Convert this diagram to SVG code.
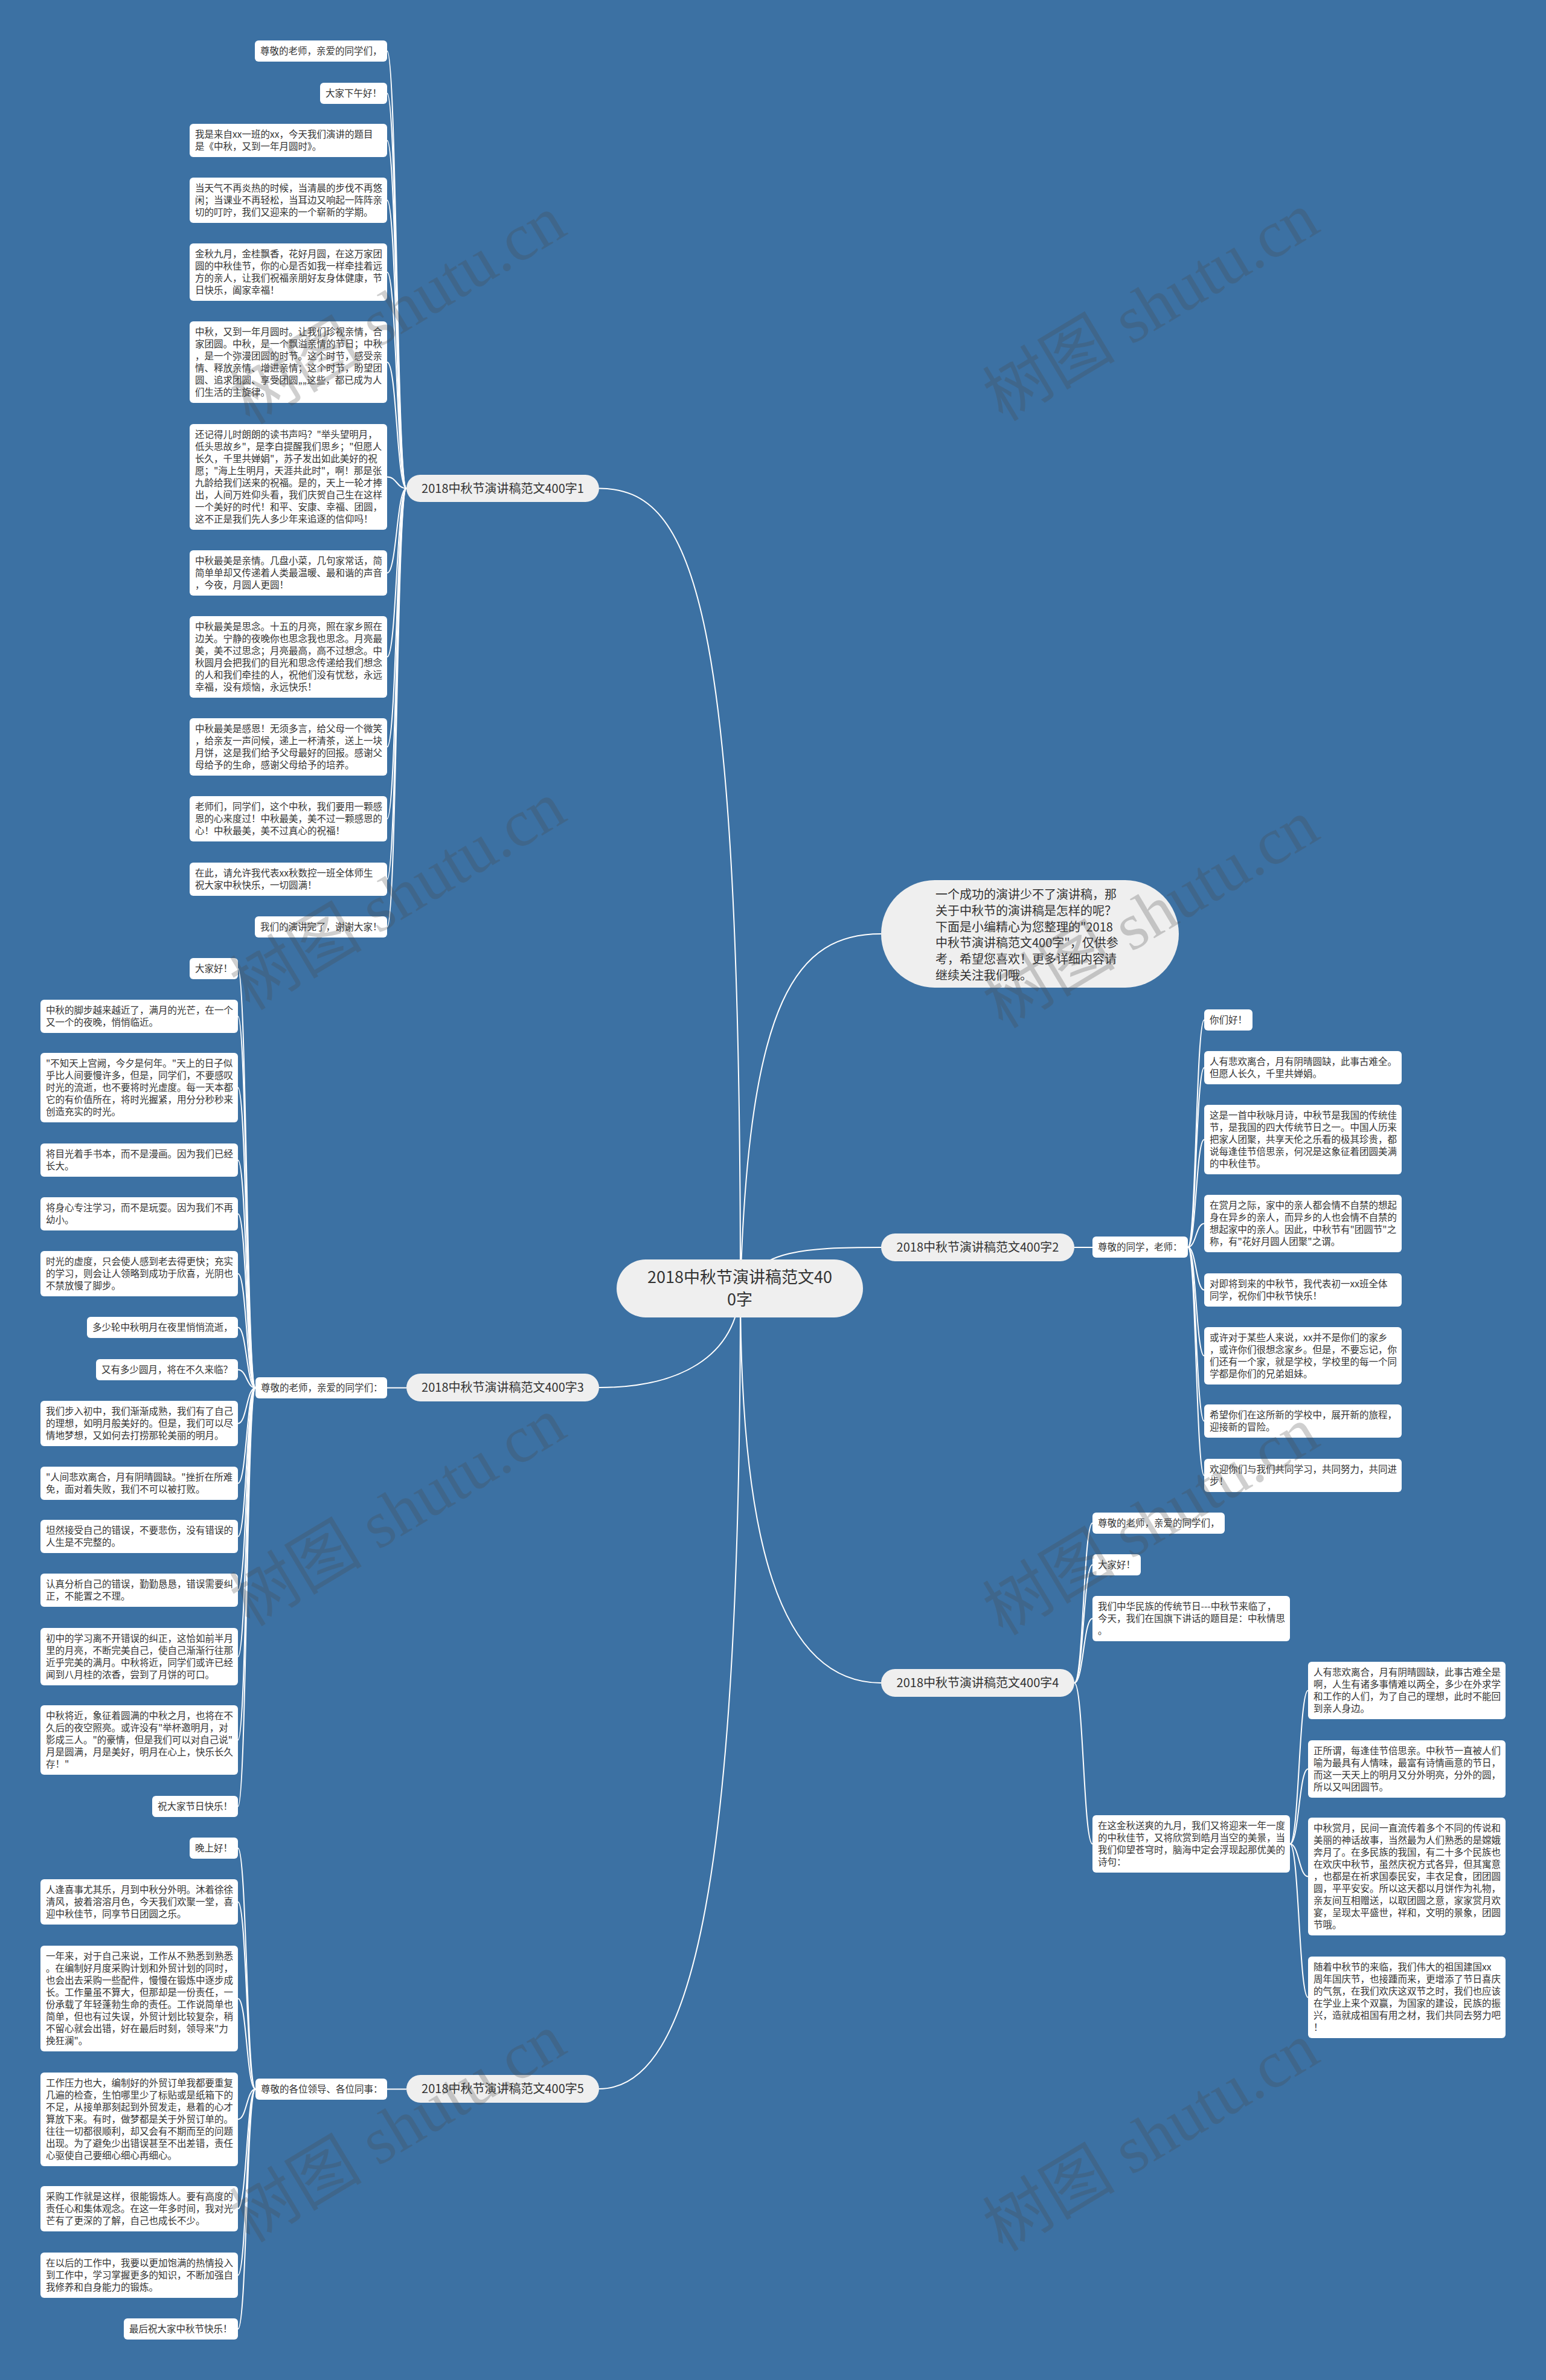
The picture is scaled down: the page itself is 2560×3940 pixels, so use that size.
<svg xmlns="http://www.w3.org/2000/svg" width="2560" height="3940" viewBox="0 0 2560 3940">
<style>
.bg{fill:#3c71a3}
.bx{fill:#ffffff}
.lb{fill:#efefef}
.t{font-family:"Noto Sans CJK SC","Noto Sans",sans-serif;font-size:15.5px;fill:#333333}
.lt{font-family:"Noto Sans CJK SC","Noto Sans",sans-serif;font-size:20px;fill:#333333;text-anchor:middle}
.ct{font-family:"Noto Sans CJK SC","Noto Sans",sans-serif;font-size:27px;fill:#333333;text-anchor:middle}
.it{font-family:"Noto Sans CJK SC","Noto Sans",sans-serif;font-size:20px;fill:#333333}
.c{fill:none;stroke:#ffffff;stroke-width:2}
.wm{font-family:"Liberation Serif","Noto Sans CJK SC",serif;font-size:110px;fill:#4a4a4a;opacity:0.26;text-anchor:middle}
</style>
<rect class="bg" x="0" y="0" width="2560" height="3940"/>

<g id="connectors">
<path class="c" d="M1226,2132 C1226,1000 1150,808.5 992,808.5"/>
<path class="c" d="M1226,2132 C1240,1650 1320,1546 1459,1546"/>
<path class="c" d="M1226,2132 C1260,2070 1330,2065 1459,2065"/>
<path class="c" d="M1226,2132 C1220,2250 1120,2297 992,2297"/>
<path class="c" d="M1226,2132 C1226,2550 1290,2786 1459,2786"/>
<path class="c" d="M1226,2132 C1226,3100 1150,3458 992,3458"/>
<path class="c" d="M1779,2065 H1809"/>
<path class="c" d="M641,2297.5 H673"/>
<path class="c" d="M641,3458.5 H673"/>
<!-- branch 1 -->
<path class="c" d="M673,808.5 C657,808.5 657,84.5 641,84.5"/>
<path class="c" d="M673,808.5 C657,808.5 657,154.5 641,154.5"/>
<path class="c" d="M673,808.5 C657,808.5 657,232.5 641,232.5"/>
<path class="c" d="M673,808.5 C657,808.5 657,331.5 641,331.5"/>
<path class="c" d="M673,808.5 C657,808.5 657,450.5 641,450.5"/>
<path class="c" d="M673,808.5 C657,808.5 657,599.5 641,599.5"/>
<path class="c" d="M673,808.5 C657,808.5 657,789.5 641,789.5"/>
<path class="c" d="M673,808.5 C657,808.5 657,948.5 641,948.5"/>
<path class="c" d="M673,808.5 C657,808.5 657,1087.5 641,1087.5"/>
<path class="c" d="M673,808.5 C657,808.5 657,1236.5 641,1236.5"/>
<path class="c" d="M673,808.5 C657,808.5 657,1355.5 641,1355.5"/>
<path class="c" d="M673,808.5 C657,808.5 657,1455.5 641,1455.5"/>
<path class="c" d="M673,808.5 C657,808.5 657,1534.5 641,1534.5"/>
<!-- branch 3 -->
<path class="c" d="M423,2297.5 C408.5,2297.5 408.5,1603.5 394,1603.5"/>
<path class="c" d="M423,2297.5 C408.5,2297.5 408.5,1682.5 394,1682.5"/>
<path class="c" d="M423,2297.5 C408.5,2297.5 408.5,1800.5 394,1800.5"/>
<path class="c" d="M423,2297.5 C408.5,2297.5 408.5,1920.5 394,1920.5"/>
<path class="c" d="M423,2297.5 C408.5,2297.5 408.5,2009.5 394,2009.5"/>
<path class="c" d="M423,2297.5 C408.5,2297.5 408.5,2108.5 394,2108.5"/>
<path class="c" d="M423,2297.5 C408.5,2297.5 408.5,2197.5 394,2197.5"/>
<path class="c" d="M423,2297.5 C408.5,2297.5 408.5,2267.5 394,2267.5"/>
<path class="c" d="M423,2297.5 C408.5,2297.5 408.5,2356.5 394,2356.5"/>
<path class="c" d="M423,2297.5 C408.5,2297.5 408.5,2455.5 394,2455.5"/>
<path class="c" d="M423,2297.5 C408.5,2297.5 408.5,2543.5 394,2543.5"/>
<path class="c" d="M423,2297.5 C408.5,2297.5 408.5,2632.5 394,2632.5"/>
<path class="c" d="M423,2297.5 C408.5,2297.5 408.5,2742.5 394,2742.5"/>
<path class="c" d="M423,2297.5 C408.5,2297.5 408.5,2880.5 394,2880.5"/>
<path class="c" d="M423,2297.5 C408.5,2297.5 408.5,2990.5 394,2990.5"/>
<!-- branch 5 -->
<path class="c" d="M423,3458.5 C408.5,3458.5 408.5,3059.5 394,3059.5"/>
<path class="c" d="M423,3458.5 C408.5,3458.5 408.5,3148.5 394,3148.5"/>
<path class="c" d="M423,3458.5 C408.5,3458.5 408.5,3308.5 394,3308.5"/>
<path class="c" d="M423,3458.5 C408.5,3458.5 408.5,3508.5 394,3508.5"/>
<path class="c" d="M423,3458.5 C408.5,3458.5 408.5,3656.5 394,3656.5"/>
<path class="c" d="M423,3458.5 C408.5,3458.5 408.5,3766.5 394,3766.5"/>
<path class="c" d="M423,3458.5 C408.5,3458.5 408.5,3855.5 394,3855.5"/>
<!-- branch 2 -->
<path class="c" d="M1967,2064.5 C1980.5,2064.5 1980.5,1688.5 1994,1688.5"/>
<path class="c" d="M1967,2064.5 C1980.5,2064.5 1980.5,1767.5 1994,1767.5"/>
<path class="c" d="M1967,2064.5 C1980.5,2064.5 1980.5,1886.5 1994,1886.5"/>
<path class="c" d="M1967,2064.5 C1980.5,2064.5 1980.5,2025.5 1994,2025.5"/>
<path class="c" d="M1967,2064.5 C1980.5,2064.5 1980.5,2135.5 1994,2135.5"/>
<path class="c" d="M1967,2064.5 C1980.5,2064.5 1980.5,2244.5 1994,2244.5"/>
<path class="c" d="M1967,2064.5 C1980.5,2064.5 1980.5,2352.5 1994,2352.5"/>
<path class="c" d="M1967,2064.5 C1980.5,2064.5 1980.5,2442.5 1994,2442.5"/>
<!-- branch 4 -->
<path class="c" d="M1779,2786 C1794,2786 1794,2521.5 1809,2521.5"/>
<path class="c" d="M1779,2786 C1794,2786 1794,2590.5 1809,2590.5"/>
<path class="c" d="M1779,2786 C1794,2786 1794,2679.5 1809,2679.5"/>
<path class="c" d="M1779,2786 C1794,2786 1794,3052.5 1809,3052.5"/>
<path class="c" d="M2136,3052.5 C2151,3052.5 2151,2798.5 2166,2798.5"/>
<path class="c" d="M2136,3052.5 C2151,3052.5 2151,2928.5 2166,2928.5"/>
<path class="c" d="M2136,3052.5 C2151,3052.5 2151,3106.5 2166,3106.5"/>
<path class="c" d="M2136,3052.5 C2151,3052.5 2151,3306.5 2166,3306.5"/>
</g>

<!-- central -->
<g id="central">
<rect class="lb" x="1021" y="2085" width="408" height="96" rx="48"/>
<text class="ct" x="1225" y="2124">2018中秋节演讲稿范文40<tspan x="1225" dy="37">0字</tspan></text>
</g>

<g id="intro">
<rect class="lb" x="1459" y="1457" width="493" height="178" rx="89"/>
<text class="it" x="1549" y="1488">一个成功的演讲少不了演讲稿，那<tspan x="1549" dy="26.8">关于中秋节的演讲稿是怎样的呢？</tspan><tspan x="1549" dy="26.8">下面是小编精心为您整理的"2018</tspan><tspan x="1549" dy="26.8">中秋节演讲稿范文400字"，仅供参</tspan><tspan x="1549" dy="26.8">考，希望您喜欢！更多详细内容请</tspan><tspan x="1549" dy="26.8">继续关注我们哦。</tspan></text>
</g>

<!-- branch labels -->
<g id="b1"><rect class="lb" x="673" y="786" width="319" height="45" rx="22.5"/><text class="lt" x="832.5" y="815.5">2018中秋节演讲稿范文400字1</text></g>
<g id="b2"><rect class="lb" x="1459" y="2042" width="320" height="46" rx="23"/><text class="lt" x="1619" y="2072">2018中秋节演讲稿范文400字2</text></g>
<g id="b3"><rect class="lb" x="673" y="2274" width="319" height="46" rx="23"/><text class="lt" x="832.5" y="2304">2018中秋节演讲稿范文400字3</text></g>
<g id="b4"><rect class="lb" x="1459" y="2763" width="320" height="46" rx="23"/><text class="lt" x="1619" y="2793">2018中秋节演讲稿范文400字4</text></g>
<g id="b5"><rect class="lb" x="673" y="3435" width="319" height="46" rx="23"/><text class="lt" x="832.5" y="3465">2018中秋节演讲稿范文400字5</text></g>

<!-- branch 1 children -->
<g id="b1_1"><rect class="bx" x="422" y="67" width="219" height="35" rx="6"/><text class="t" x="431" y="90">尊敬的老师，亲爱的同学们，</text></g>
<g id="b1_2"><rect class="bx" x="530" y="137" width="111" height="35" rx="6"/><text class="t" x="539" y="160">大家下午好！</text></g>
<g id="b1_3"><rect class="bx" x="314" y="205" width="327" height="55" rx="6"/><text class="t" x="323" y="228">我是来自xx一班的xx，今天我们演讲的题目<tspan x="323" dy="20">是《中秋，又到一年月圆时》。</tspan></text></g>
<g id="b1_4"><rect class="bx" x="314" y="294" width="327" height="75" rx="6"/><text class="t" x="323" y="317">当天气不再炎热的时候，当清晨的步伐不再悠<tspan x="323" dy="20">闲；当课业不再轻松，当耳边又响起一阵阵亲</tspan><tspan x="323" dy="20">切的叮咛，我们又迎来的一个崭新的学期。</tspan></text></g>
<g id="b1_5"><rect class="bx" x="314" y="403" width="327" height="95" rx="6"/><text class="t" x="323" y="426">金秋九月，金桂飘香，花好月圆，在这万家团<tspan x="323" dy="20">圆的中秋佳节，你的心是否如我一样牵挂着远</tspan><tspan x="323" dy="20">方的亲人，让我们祝福亲朋好友身体健康，节</tspan><tspan x="323" dy="20">日快乐，阖家幸福！</tspan></text></g>
<g id="b1_6"><rect class="bx" x="314" y="532" width="327" height="135" rx="6"/><text class="t" x="323" y="555">中秋，又到一年月圆时。让我们珍视亲情，合<tspan x="323" dy="20">家团圆。中秋，是一个飘溢亲情的节日；中秋</tspan><tspan x="323" dy="20">，是一个弥漫团圆的时节。这个时节，感受亲</tspan><tspan x="323" dy="20">情、释放亲情、增进亲情；这个时节，盼望团</tspan><tspan x="323" dy="20">圆、追求团圆、享受团圆„„这些，都已成为人</tspan><tspan x="323" dy="20">们生活的主旋律。</tspan></text></g>
<g id="b1_7"><rect class="bx" x="314" y="702" width="327" height="175" rx="6"/><text class="t" x="323" y="725">还记得儿时朗朗的读书声吗？"举头望明月，<tspan x="323" dy="20">低头思故乡"，是李白提醒我们思乡；"但愿人</tspan><tspan x="323" dy="20">长久，千里共婵娟"，苏子发出如此美好的祝</tspan><tspan x="323" dy="20">愿；"海上生明月，天涯共此时"，啊！那是张</tspan><tspan x="323" dy="20">九龄给我们送来的祝福。是的，天上一轮才捧</tspan><tspan x="323" dy="20">出，人间万姓仰头看，我们庆贺自己生在这样</tspan><tspan x="323" dy="20">一个美好的时代！和平、安康、幸福、团圆，</tspan><tspan x="323" dy="20">这不正是我们先人多少年来追逐的信仰吗！</tspan></text></g>
<g id="b1_8"><rect class="bx" x="314" y="911" width="327" height="75" rx="6"/><text class="t" x="323" y="934">中秋最美是亲情。几盘小菜，几句家常话，简<tspan x="323" dy="20">简单单却又传递着人类最温暖、最和谐的声音</tspan><tspan x="323" dy="20">，今夜，月圆人更圆！</tspan></text></g>
<g id="b1_9"><rect class="bx" x="314" y="1020" width="327" height="135" rx="6"/><text class="t" x="323" y="1043">中秋最美是思念。十五的月亮，照在家乡照在<tspan x="323" dy="20">边关。宁静的夜晚你也思念我也思念。月亮最</tspan><tspan x="323" dy="20">美，美不过思念；月亮最高，高不过想念。中</tspan><tspan x="323" dy="20">秋圆月会把我们的目光和思念传递给我们想念</tspan><tspan x="323" dy="20">的人和我们牵挂的人，祝他们没有忧愁，永远</tspan><tspan x="323" dy="20">幸福，没有烦恼，永远快乐！</tspan></text></g>
<g id="b1_10"><rect class="bx" x="314" y="1189" width="327" height="95" rx="6"/><text class="t" x="323" y="1212">中秋最美是感恩！无须多言，给父母一个微笑<tspan x="323" dy="20">，给亲友一声问候，递上一杯清茶，送上一块</tspan><tspan x="323" dy="20">月饼，这是我们给予父母最好的回报。感谢父</tspan><tspan x="323" dy="20">母给予的生命，感谢父母给予的培养。</tspan></text></g>
<g id="b1_11"><rect class="bx" x="314" y="1318" width="327" height="75" rx="6"/><text class="t" x="323" y="1341">老师们，同学们，这个中秋，我们要用一颗感<tspan x="323" dy="20">恩的心来度过！中秋最美，美不过一颗感恩的</tspan><tspan x="323" dy="20">心！中秋最美，美不过真心的祝福！</tspan></text></g>
<g id="b1_12"><rect class="bx" x="314" y="1428" width="327" height="55" rx="6"/><text class="t" x="323" y="1451">在此，请允许我代表xx秋数控一班全体师生<tspan x="323" dy="20">祝大家中秋快乐，一切圆满！</tspan></text></g>
<g id="b1_13"><rect class="bx" x="422" y="1517" width="219" height="35" rx="6"/><text class="t" x="431" y="1540">我们的演讲完了，谢谢大家！</text></g>

<!-- branch 2 -->
<g id="b2_s"><rect class="bx" x="1809" y="2047" width="158" height="35" rx="6"/><text class="t" x="1818" y="2070">尊敬的同学，老师：</text></g>
<g id="b2_1"><rect class="bx" x="1994" y="1671" width="80" height="35" rx="6"/><text class="t" x="2003" y="1694">你们好！</text></g>
<g id="b2_2"><rect class="bx" x="1994" y="1740" width="327" height="55" rx="6"/><text class="t" x="2003" y="1763">人有悲欢离合，月有阴晴圆缺，此事古难全。<tspan x="2003" dy="20">但愿人长久，千里共婵娟。</tspan></text></g>
<g id="b2_3"><rect class="bx" x="1994" y="1829" width="327" height="115" rx="6"/><text class="t" x="2003" y="1852">这是一首中秋咏月诗，中秋节是我国的传统佳<tspan x="2003" dy="20">节，是我国的四大传统节日之一。中国人历来</tspan><tspan x="2003" dy="20">把家人团聚，共享天伦之乐看的极其珍贵，都</tspan><tspan x="2003" dy="20">说每逢佳节倍思亲，何况是这象征着团圆美满</tspan><tspan x="2003" dy="20">的中秋佳节。</tspan></text></g>
<g id="b2_4"><rect class="bx" x="1994" y="1978" width="327" height="95" rx="6"/><text class="t" x="2003" y="2001">在赏月之际，家中的亲人都会情不自禁的想起<tspan x="2003" dy="20">身在异乡的亲人，而异乡的人也会情不自禁的</tspan><tspan x="2003" dy="20">想起家中的亲人。因此，中秋节有"团圆节"之</tspan><tspan x="2003" dy="20">称，有"花好月圆人团聚"之谓。</tspan></text></g>
<g id="b2_5"><rect class="bx" x="1994" y="2108" width="327" height="55" rx="6"/><text class="t" x="2003" y="2131">对即将到来的中秋节，我代表初一xx班全体<tspan x="2003" dy="20">同学，祝你们中秋节快乐！</tspan></text></g>
<g id="b2_6"><rect class="bx" x="1994" y="2197" width="327" height="95" rx="6"/><text class="t" x="2003" y="2220">或许对于某些人来说，xx并不是你们的家乡<tspan x="2003" dy="20">，或许你们很想念家乡。但是，不要忘记，你</tspan><tspan x="2003" dy="20">们还有一个家，就是学校，学校里的每一个同</tspan><tspan x="2003" dy="20">学都是你们的兄弟姐妹。</tspan></text></g>
<g id="b2_7"><rect class="bx" x="1994" y="2325" width="327" height="55" rx="6"/><text class="t" x="2003" y="2348">希望你们在这所新的学校中，展开新的旅程，<tspan x="2003" dy="20">迎接新的冒险。</tspan></text></g>
<g id="b2_8"><rect class="bx" x="1994" y="2415" width="327" height="55" rx="6"/><text class="t" x="2003" y="2438">欢迎你们与我们共同学习，共同努力，共同进<tspan x="2003" dy="20">步！</tspan></text></g>

<!-- branch 3 -->
<g id="b3_s"><rect class="bx" x="423" y="2280" width="218" height="35" rx="6"/><text class="t" x="432" y="2303">尊敬的老师，亲爱的同学们：</text></g>
<g id="b3_1"><rect class="bx" x="314" y="1586" width="80" height="35" rx="6"/><text class="t" x="323" y="1609">大家好！</text></g>
<g id="b3_2"><rect class="bx" x="67" y="1655" width="327" height="55" rx="6"/><text class="t" x="76" y="1678">中秋的脚步越来越近了，满月的光芒，在一个<tspan x="76" dy="20">又一个的夜晚，悄悄临近。</tspan></text></g>
<g id="b3_3"><rect class="bx" x="67" y="1743" width="327" height="115" rx="6"/><text class="t" x="76" y="1766">"不知天上宫阙，今夕是何年。"天上的日子似<tspan x="76" dy="20">乎比人间要慢许多，但是，同学们，不要感叹</tspan><tspan x="76" dy="20">时光的流逝，也不要将时光虚度。每一天本都</tspan><tspan x="76" dy="20">它的有价值所在，将时光握紧，用分分秒秒来</tspan><tspan x="76" dy="20">创造充实的时光。</tspan></text></g>
<g id="b3_4"><rect class="bx" x="67" y="1893" width="327" height="55" rx="6"/><text class="t" x="76" y="1916">将目光着手书本，而不是漫画。因为我们已经<tspan x="76" dy="20">长大。</tspan></text></g>
<g id="b3_5"><rect class="bx" x="67" y="1982" width="327" height="55" rx="6"/><text class="t" x="76" y="2005">将身心专注学习，而不是玩耍。因为我们不再<tspan x="76" dy="20">幼小。</tspan></text></g>
<g id="b3_6"><rect class="bx" x="67" y="2071" width="327" height="75" rx="6"/><text class="t" x="76" y="2094">时光的虚度，只会使人感到老去得更快；充实<tspan x="76" dy="20">的学习，则会让人领略到成功于欣喜，光阴也</tspan><tspan x="76" dy="20">不禁放慢了脚步。</tspan></text></g>
<g id="b3_7"><rect class="bx" x="144" y="2180" width="250" height="35" rx="6"/><text class="t" x="153" y="2203">多少轮中秋明月在夜里悄悄流逝，</text></g>
<g id="b3_8"><rect class="bx" x="159" y="2250" width="235" height="35" rx="6"/><text class="t" x="168" y="2273">又有多少圆月，将在不久来临？</text></g>
<g id="b3_9"><rect class="bx" x="67" y="2319" width="327" height="75" rx="6"/><text class="t" x="76" y="2342">我们步入初中，我们渐渐成熟，我们有了自己<tspan x="76" dy="20">的理想，如明月般美好的。但是，我们可以尽</tspan><tspan x="76" dy="20">情地梦想，又如何去打捞那轮美丽的明月。</tspan></text></g>
<g id="b3_10"><rect class="bx" x="67" y="2428" width="327" height="55" rx="6"/><text class="t" x="76" y="2451">"人间悲欢离合，月有阴晴圆缺。"挫折在所难<tspan x="76" dy="20">免，面对着失败，我们不可以被打败。</tspan></text></g>
<g id="b3_11"><rect class="bx" x="67" y="2516" width="327" height="55" rx="6"/><text class="t" x="76" y="2539">坦然接受自己的错误，不要悲伤，没有错误的<tspan x="76" dy="20">人生是不完整的。</tspan></text></g>
<g id="b3_12"><rect class="bx" x="67" y="2605" width="327" height="55" rx="6"/><text class="t" x="76" y="2628">认真分析自己的错误，勤勤恳恳，错误需要纠<tspan x="76" dy="20">正，不能置之不理。</tspan></text></g>
<g id="b3_13"><rect class="bx" x="67" y="2695" width="327" height="95" rx="6"/><text class="t" x="76" y="2718">初中的学习离不开错误的纠正，这恰如前半月<tspan x="76" dy="20">里的月亮，不断完美自己，使自己渐渐行往那</tspan><tspan x="76" dy="20">近乎完美的满月。中秋将近，同学们或许已经</tspan><tspan x="76" dy="20">闻到八月桂的浓香，尝到了月饼的可口。</tspan></text></g>
<g id="b3_14"><rect class="bx" x="67" y="2823" width="327" height="115" rx="6"/><text class="t" x="76" y="2846">中秋将近，象征着圆满的中秋之月，也将在不<tspan x="76" dy="20">久后的夜空照亮。或许没有"举杯邀明月，对</tspan><tspan x="76" dy="20">影成三人。"的豪情，但是我们可以对自己说"</tspan><tspan x="76" dy="20">月是圆满，月是美好，明月在心上，快乐长久</tspan><tspan x="76" dy="20">存！"</tspan></text></g>
<g id="b3_15"><rect class="bx" x="252" y="2973" width="142" height="35" rx="6"/><text class="t" x="261" y="2996">祝大家节日快乐！</text></g>

<!-- branch 4 -->
<g id="b4_1"><rect class="bx" x="1809" y="2504" width="219" height="35" rx="6"/><text class="t" x="1818" y="2527">尊敬的老师，亲爱的同学们，</text></g>
<g id="b4_2"><rect class="bx" x="1809" y="2573" width="80" height="35" rx="6"/><text class="t" x="1818" y="2596">大家好！</text></g>
<g id="b4_3"><rect class="bx" x="1809" y="2642" width="327" height="75" rx="6"/><text class="t" x="1818" y="2665">我们中华民族的传统节日---中秋节来临了，<tspan x="1818" dy="20">今天，我们在国旗下讲话的题目是：中秋情思</tspan><tspan x="1818" dy="20">。</tspan></text></g>
<g id="b4_4"><rect class="bx" x="1809" y="3005" width="327" height="95" rx="6"/><text class="t" x="1818" y="3028">在这金秋送爽的九月，我们又将迎来一年一度<tspan x="1818" dy="20">的中秋佳节，又将欣赏到皓月当空的美景，当</tspan><tspan x="1818" dy="20">我们仰望苍穹时，脑海中定会浮现起那优美的</tspan><tspan x="1818" dy="20">诗句：</tspan></text></g>
<g id="b4_4_1"><rect class="bx" x="2166" y="2751" width="327" height="95" rx="6"/><text class="t" x="2175" y="2774">人有悲欢离合，月有阴晴圆缺，此事古难全是<tspan x="2175" dy="20">啊，人生有诸多事情难以两全，多少在外求学</tspan><tspan x="2175" dy="20">和工作的人们，为了自己的理想，此时不能回</tspan><tspan x="2175" dy="20">到亲人身边。</tspan></text></g>
<g id="b4_4_2"><rect class="bx" x="2166" y="2881" width="327" height="95" rx="6"/><text class="t" x="2175" y="2904">正所谓，每逢佳节倍思亲。中秋节一直被人们<tspan x="2175" dy="20">喻为最具有人情味，最富有诗情画意的节日，</tspan><tspan x="2175" dy="20">而这一天天上的明月又分外明亮，分外的圆，</tspan><tspan x="2175" dy="20">所以又叫团圆节。</tspan></text></g>
<g id="b4_4_3"><rect class="bx" x="2166" y="3009" width="327" height="195" rx="6"/><text class="t" x="2175" y="3032">中秋赏月，民间一直流传着多个不同的传说和<tspan x="2175" dy="20">美丽的神话故事，当然最为人们熟悉的是嫦娥</tspan><tspan x="2175" dy="20">奔月了。在多民族的我国，有二十多个民族也</tspan><tspan x="2175" dy="20">在欢庆中秋节，虽然庆祝方式各异，但其寓意</tspan><tspan x="2175" dy="20">，也都是在祈求国泰民安，丰衣足食，团团圆</tspan><tspan x="2175" dy="20">圆，平平安安。所以这天都以月饼作为礼物，</tspan><tspan x="2175" dy="20">亲友间互相赠送，以取团圆之意，家家赏月欢</tspan><tspan x="2175" dy="20">宴，呈现太平盛世，祥和，文明的景象，团圆</tspan><tspan x="2175" dy="20">节哦。</tspan></text></g>
<g id="b4_4_4"><rect class="bx" x="2166" y="3239" width="327" height="135" rx="6"/><text class="t" x="2175" y="3262">随着中秋节的来临，我们伟大的祖国建国xx<tspan x="2175" dy="20">周年国庆节，也接踵而来，更增添了节日喜庆</tspan><tspan x="2175" dy="20">的气氛，在我们欢庆这双节之时，我们也应该</tspan><tspan x="2175" dy="20">在学业上来个双赢，为国家的建设，民族的振</tspan><tspan x="2175" dy="20">兴，造就成祖国有用之材，我们共同去努力吧</tspan><tspan x="2175" dy="20">！</tspan></text></g>

<!-- branch 5 -->
<g id="b5_s"><rect class="bx" x="423" y="3441" width="218" height="35" rx="6"/><text class="t" x="432" y="3464">尊敬的各位领导、各位同事：</text></g>
<g id="b5_1"><rect class="bx" x="314" y="3042" width="80" height="35" rx="6"/><text class="t" x="323" y="3065">晚上好！</text></g>
<g id="b5_2"><rect class="bx" x="67" y="3111" width="327" height="75" rx="6"/><text class="t" x="76" y="3134">人逢喜事尤其乐，月到中秋分外明。沐着徐徐<tspan x="76" dy="20">清风，披着溶溶月色，今天我们欢聚一堂，喜</tspan><tspan x="76" dy="20">迎中秋佳节，同享节日团圆之乐。</tspan></text></g>
<g id="b5_3"><rect class="bx" x="67" y="3221" width="327" height="175" rx="6"/><text class="t" x="76" y="3244">一年来，对于自己来说，工作从不熟悉到熟悉<tspan x="76" dy="20">。在编制好月度采购计划和外贸计划的同时，</tspan><tspan x="76" dy="20">也会出去采购一些配件，慢慢在锻炼中逐步成</tspan><tspan x="76" dy="20">长。工作量虽不算大，但那却是一份责任，一</tspan><tspan x="76" dy="20">份承载了年轻蓬勃生命的责任。工作说简单也</tspan><tspan x="76" dy="20">简单，但也有过失误，外贸计划比较复杂，稍</tspan><tspan x="76" dy="20">不留心就会出错，好在最后时刻，领导来"力</tspan><tspan x="76" dy="20">挽狂澜"。</tspan></text></g>
<g id="b5_4"><rect class="bx" x="67" y="3431" width="327" height="155" rx="6"/><text class="t" x="76" y="3454">工作压力也大，编制好的外贸订单我都要重复<tspan x="76" dy="20">几遍的检查，生怕哪里少了标贴或是纸箱下的</tspan><tspan x="76" dy="20">不足，从接单那刻起到外贸发走，悬着的心才</tspan><tspan x="76" dy="20">算放下来。有时，做梦都是关于外贸订单的。</tspan><tspan x="76" dy="20">往往一切都很顺利，却又会有不期而至的问题</tspan><tspan x="76" dy="20">出现。为了避免少出错误甚至不出差错，责任</tspan><tspan x="76" dy="20">心驱使自己要细心细心再细心。</tspan></text></g>
<g id="b5_5"><rect class="bx" x="67" y="3619" width="327" height="75" rx="6"/><text class="t" x="76" y="3642">采购工作就是这样，很能锻炼人。要有高度的<tspan x="76" dy="20">责任心和集体观念。在这一年多时间，我对光</tspan><tspan x="76" dy="20">芒有了更深的了解，自己也成长不少。</tspan></text></g>
<g id="b5_6"><rect class="bx" x="67" y="3729" width="327" height="75" rx="6"/><text class="t" x="76" y="3752">在以后的工作中，我要以更加饱满的热情投入<tspan x="76" dy="20">到工作中，学习掌握更多的知识，不断加强自</tspan><tspan x="76" dy="20">我修养和自身能力的锻炼。</tspan></text></g>
<g id="b5_7"><rect class="bx" x="205" y="3838" width="189" height="35" rx="6"/><text class="t" x="214" y="3861">最后祝大家中秋节快乐！</text></g>

<!-- watermarks -->
<g id="watermarks">
<text class="wm" transform="translate(678,545) rotate(-31)">树图 shutu.cn</text>
<text class="wm" transform="translate(1925,540) rotate(-31)">树图 shutu.cn</text>
<text class="wm" transform="translate(678,1515) rotate(-31)">树图 shutu.cn</text>
<text class="wm" transform="translate(1925,1545) rotate(-31)">树图 shutu.cn</text>
<text class="wm" transform="translate(678,2535) rotate(-31)">树图 shutu.cn</text>
<text class="wm" transform="translate(1925,2550) rotate(-31)">树图 shutu.cn</text>
<text class="wm" transform="translate(678,3555) rotate(-31)">树图 shutu.cn</text>
<text class="wm" transform="translate(1925,3570) rotate(-31)">树图 shutu.cn</text>
</g>
</svg>
